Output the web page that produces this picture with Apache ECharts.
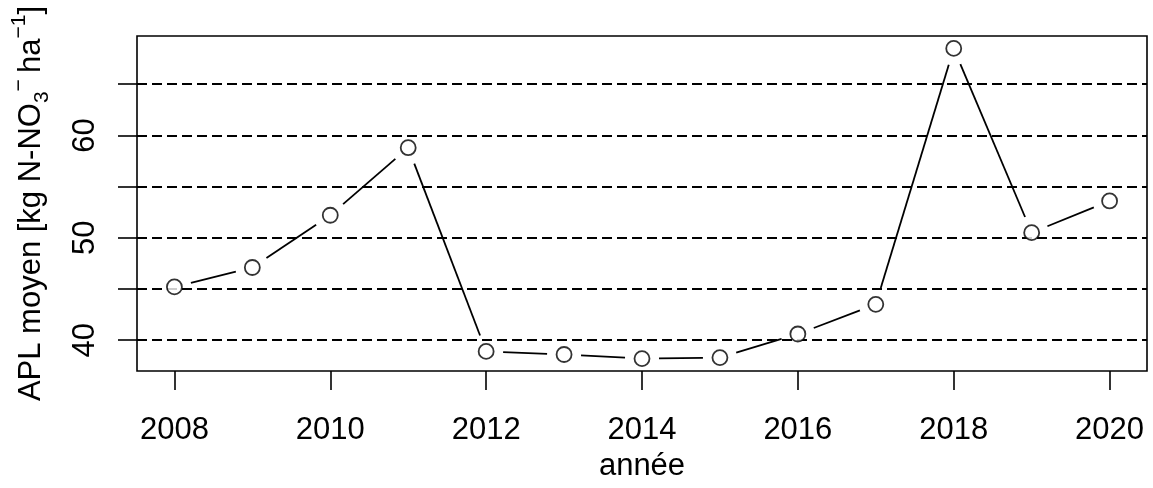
<!DOCTYPE html>
<html>
<head>
<meta charset="utf-8">
<script src="https://cdn.jsdelivr.net/npm/echarts@6/dist/echarts.min.js"></script>
<style>
  html, body { margin: 0; padding: 0; background: #fff; }
  #chart { width: 1153px; height: 488px; }
</style>
</head>
<body>
<div id="chart"></div>
<script>
// ---- data ----
const years = [2008, 2009, 2010, 2011, 2012, 2013, 2014, 2015, 2016, 2017, 2018, 2019, 2020];
const aplValues = [45.2, 47.1, 52.2, 58.8, 38.9, 38.6, 38.2, 38.3, 40.6, 43.5, 68.5, 50.5, 53.6];
const xTickValues = [2008, 2010, 2012, 2014, 2016, 2018, 2020];
const yTickValues = [40, 45, 50, 55, 60, 65];
const yLabelValues = [40, 50, 60];
const gridLineValues = [40, 45, 50, 55, 60, 65];

// R-style axis extents (4% padding)
const xMin = Math.min(...years), xMax = Math.max(...years);
const yMinV = Math.min(...aplValues), yMaxV = Math.max(...aplValues);
const xPad = (xMax - xMin) * 0.04, yPad = (yMaxV - yMinV) * 0.04;

const points = years.map((y, i) => [y, aplValues[i]]);
const segments = [];
for (let i = 0; i < years.length - 1; i++) {
  segments.push([years[i], aplValues[i], years[i + 1], aplValues[i + 1]]);
}

const FONT = 'Liberation Sans, Arial, sans-serif';
const chart = echarts.init(document.getElementById('chart'), null, { renderer: 'canvas' });

chart.setOption({
  backgroundColor: '#fff',
  animation: false,
  grid: {
    left: 137, right: 6, top: 36, bottom: 117,
    show: true, borderColor: '#000', borderWidth: 1.6, backgroundColor: 'transparent'
  },
  xAxis: {
    type: 'value',
    min: xMin - xPad, max: xMax + xPad,
    name: 'année',
    nameLocation: 'middle',
    nameGap: 80,
    nameTextStyle: { fontFamily: FONT, fontSize: 31, color: '#000' },
    axisLine: { show: false },
    splitLine: { show: false },
    axisTick: { show: true, inside: false, length: 19, customValues: xTickValues,
                lineStyle: { color: '#000', width: 1.6 } },
    axisLabel: { customValues: xTickValues, margin: 44, fontFamily: FONT, fontSize: 31, color: '#000',
                 formatter: v => String(v) }
  },
  yAxis: {
    type: 'value',
    min: yMinV - yPad, max: yMaxV + yPad,
    name: '{a|APL moyen [kg N-NO}{sub|3}{sup|\u2212}{a|\u2009ha}{sup|\u22121}{a|]}',
    nameLocation: 'middle',
    nameRotate: 90,
    nameGap: 84,
    nameTextStyle: {
      fontFamily: FONT, color: '#000',
      rich: {
        a: { fontFamily: FONT, fontSize: 31, color: '#000', lineHeight: 44, verticalAlign: 'middle' },
        sub: { fontFamily: FONT, fontSize: 21, color: '#000', verticalAlign: 'bottom' },
        sup: { fontFamily: FONT, fontSize: 21, color: '#000', verticalAlign: 'top' }
      }
    },
    axisLine: { show: false },
    splitLine: { show: false },
    axisTick: { show: true, inside: false, length: 19, customValues: yTickValues,
                lineStyle: { color: '#000', width: 1.6 } },
    axisLabel: { customValues: yLabelValues, rotate: 90, margin: 36, fontFamily: FONT, fontSize: 31, color: '#000' }
  },
  series: [
    {
      type: 'custom',
      data: segments,
      encode: { x: [0, 2], y: [1, 3] },
      silent: true,
      z: 3,
      renderItem: function (params, api) {
        const p1 = api.coord([api.value(0), api.value(1)]);
        const p2 = api.coord([api.value(2), api.value(3)]);
        const dx = p2[0] - p1[0], dy = p2[1] - p1[1];
        const d = Math.sqrt(dx * dx + dy * dy);
        const gap = 17;
        if (d <= 2 * gap) return null;
        const ux = dx / d, uy = dy / d;
        return {
          type: 'line',
          shape: { x1: p1[0] + ux * gap, y1: p1[1] + uy * gap, x2: p2[0] - ux * gap, y2: p2[1] - uy * gap },
          style: { stroke: '#000', lineWidth: 1.8 }
        };
      }
    },
    {
      type: 'scatter',
      data: points,
      symbol: 'circle',
      symbolSize: 15,
      z: 4,
      itemStyle: { color: '#fff', borderColor: '#000', borderWidth: 1.8 },
      markLine: {
        silent: true,
        symbol: ['none', 'none'],
        label: { show: false },
        lineStyle: { color: '#000', width: 1.8, type: [10, 5] },
        data: gridLineValues.map(v => ({ yAxis: v })),
        z: 2
      }
    }
  ]
});
</script>
</body>
</html>
